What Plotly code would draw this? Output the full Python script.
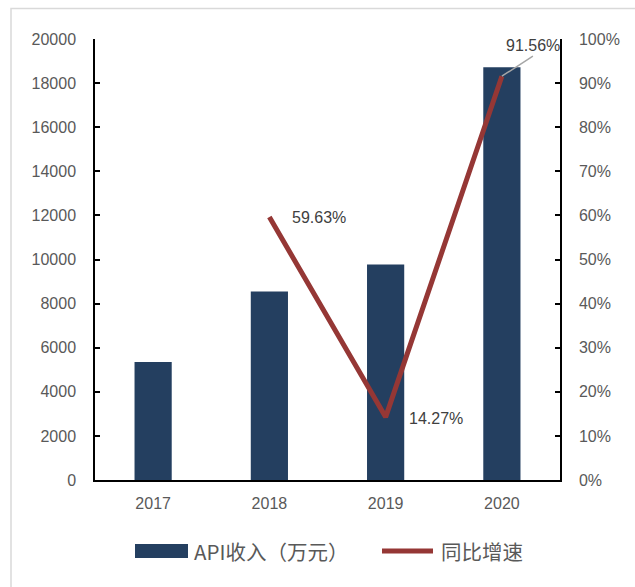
import plotly.graph_objects as go

years = ["2017", "2018", "2019", "2020"]
revenue = [5356, 8550, 9770, 18716]
growth_years = ["2018", "2019", "2020"]
growth = [0.5963, 0.1427, 0.9156]
growth_labels = ["59.63%", "14.27%", "91.56%"]

bar_color = "#243F60"
line_color = "#953735"
tick_font = dict(family="Liberation Sans, Arial, sans-serif", size=16, color="#595959")
label_font = dict(family="Liberation Sans, Arial, sans-serif", size=16, color="#404040")
cjk_font = dict(family="Noto Sans CJK SC, sans-serif", size=20.5, color="#595959")

# plot-area geometry (pixels)
W, H = 635, 587
L, R, T, B = 95, 75, 38.5, 107
PW = W - L - R
PH = H - T - B


def px_x(p):
    return (p - L) / PW


def px_y(p):
    return (H - B - p) / PH


fig = go.Figure()
fig.add_trace(go.Bar(x=years, y=revenue, marker=dict(color=bar_color, line=dict(width=0)),
                     name="API收入（万元）", showlegend=False))
fig.add_trace(go.Scatter(x=growth_years, y=growth, yaxis="y2", mode="lines",
                         line=dict(color=line_color, width=5), name="同比增速", showlegend=False))

annotations = []
for yr, g, lab, ys in zip(growth_years[:2], growth[:2], growth_labels[:2], [0, -1]):
    annotations.append(dict(x=years.index(yr), y=g, xref="x", yref="y2", text=lab, showarrow=False,
                            xanchor="left", yanchor="middle", xshift=21, yshift=ys, font=label_font))
annotations.append(dict(x=years.index(growth_years[2]), y=growth[2], xref="x", yref="y2",
                        text=growth_labels[2],
                        showarrow=True, arrowhead=0, arrowwidth=1.5, arrowcolor="#A6A6A6",
                        ax=31, ay=-20, xanchor="center", yanchor="bottom", font=label_font))

annotations.append(dict(x=px_x(192), y=px_y(551), xref="paper", yref="paper", text="API收入（万元）",
                        showarrow=False, xanchor="left", yanchor="middle", font=cjk_font))
annotations.append(dict(x=px_x(439), y=px_y(551), xref="paper", yref="paper", text="同比增速",
                        showarrow=False, xanchor="left", yanchor="middle", font=cjk_font))

shapes = [
    dict(type="rect", xref="paper", yref="paper", x0=px_x(11), x1=px_x(660), y0=px_y(620), y1=px_y(8),
         line=dict(color="#D9D9D9", width=1.5), fillcolor="rgba(0,0,0,0)", layer="below"),
    dict(type="rect", xref="paper", yref="paper", x0=px_x(135), x1=px_x(188), y0=px_y(558), y1=px_y(544),
         line=dict(width=0), fillcolor=bar_color),
    dict(type="line", xref="paper", yref="paper", x0=px_x(382), x1=px_x(433), y0=px_y(551), y1=px_y(551),
         line=dict(color=line_color, width=5)),
]

fig.update_layout(
    width=W, height=H,
    margin=dict(l=L, r=R, t=T, b=B),
    paper_bgcolor="white", plot_bgcolor="white",
    bargap=0.68,
    xaxis=dict(type="category", categoryorder="array", categoryarray=years, range=[-0.5, len(years) - 0.5],
               showline=True, linecolor="black", linewidth=1.5, ticks="",
               tickfont=tick_font, showgrid=False, ticklabelstandoff=8),
    yaxis=dict(range=[0, 20000], dtick=2000, tickformat="d", showline=True, linecolor="black", linewidth=1.5,
               ticks="inside", ticklen=5, tickcolor="black", tickwidth=1.5, showgrid=False,
               zeroline=False, tickfont=tick_font, ticklabelstandoff=14),
    yaxis2=dict(range=[0, 1], dtick=0.1, tickformat=".0%", overlaying="y", side="right",
                showline=True, linecolor="black", linewidth=1.5, ticks="inside", ticklen=5,
                tickcolor="black", tickwidth=1.5, showgrid=False, zeroline=False,
                tickfont=tick_font, ticklabelstandoff=14),
    annotations=annotations,
    shapes=shapes,
)

fig.write_html("out.html")
